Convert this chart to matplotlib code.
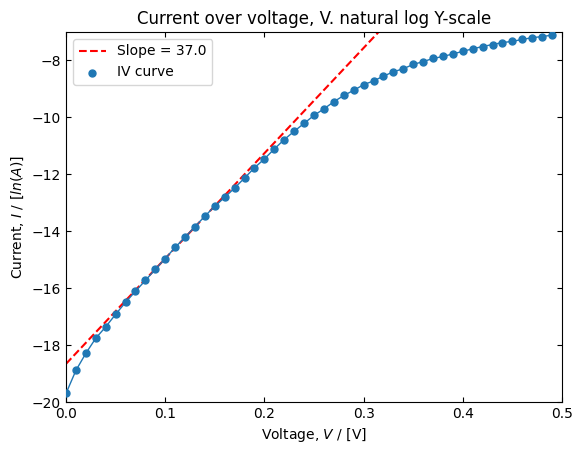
import matplotlib.pyplot as plt
import numpy as np

voltage = [0.00, 0.01, 0.02, 0.03, 0.04, 0.05, 0.06, 0.07, 0.08, 0.09,
           0.10, 0.11, 0.12, 0.13, 0.14, 0.15, 0.16, 0.17, 0.18, 0.19,
           0.20, 0.21, 0.22, 0.23, 0.24, 0.25, 0.26, 0.27, 0.28, 0.29,
           0.30, 0.31, 0.32, 0.33, 0.34, 0.35, 0.36, 0.37, 0.38, 0.39,
           0.40, 0.41, 0.42, 0.43, 0.44, 0.45, 0.46, 0.47, 0.48, 0.49]
ln_current = [-19.70, -18.89, -18.29, -17.76, -17.36, -16.92, -16.50, -16.11, -15.73, -15.34,
              -14.96, -14.57, -14.21, -13.84, -13.47, -13.12, -12.81, -12.48, -12.13, -11.77,
              -11.46, -11.11, -10.78, -10.49, -10.21, -9.93, -9.70, -9.45, -9.23, -9.05,
              -8.85, -8.72, -8.55, -8.40, -8.29, -8.14, -8.04, -7.93, -7.86, -7.77,
              -7.68, -7.59, -7.51, -7.44, -7.37, -7.33, -7.26, -7.20, -7.16, -7.11]

# linear fit over the straight part
slope = 37.0
intercept = -18.66

fig = plt.figure(figsize=(5.83, 4.54), dpi=100)
ax = fig.add_axes([66/583, 52/454, 496/583, 370/454])

v = np.array(voltage)
ax.plot(v, slope*v + intercept, color='red', linestyle='--', label=f"Slope = {slope}")
ax.plot(voltage, ln_current, color='tab:blue', linewidth=1)
ax.scatter(voltage, ln_current, s=25, color='tab:blue', zorder=3, label="IV curve")

ax.set_xlim(0, 0.5)
ax.set_ylim(-20, -7)
ax.tick_params(direction='in', top=True, right=True)
ax.set_title("Current over voltage, V. natural log Y-scale")
ax.set_xlabel("Voltage, $V$ / [V]")
ax.set_ylabel("Current, $I$ / [$ln(A)$]")
ax.legend(loc='upper left')

fig.savefig("out.png", dpi=100)
